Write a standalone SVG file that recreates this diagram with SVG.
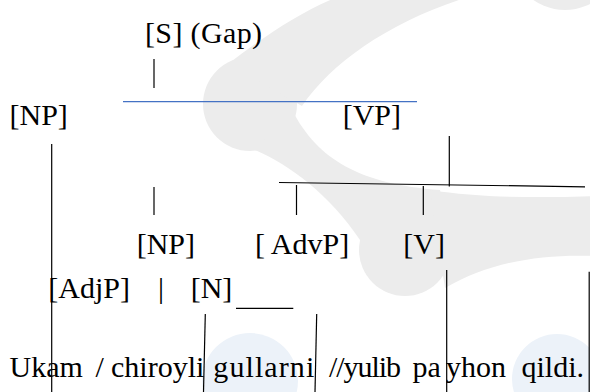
<svg xmlns="http://www.w3.org/2000/svg" width="590" height="392" viewBox="0 0 590 392">
<style>
.ln{stroke:#000;stroke-width:1.2;fill:none}
.blue{stroke:#4472c4;stroke-width:1.2;fill:none}
.wm{fill:#ececec}
.wb{fill:#ecf2f9}
</style>
<rect width="590" height="392" fill="#fff"/>
<g id="watermark">
<circle class="wm" cx="250" cy="104" r="47"/>
<path class="wm" d="M228,64 C262,38 300,12 335,-2 L465,-2 C390,22 332,62 302,106 Z"/>
<path class="wm" d="M292,110 C318,160 360,184 440,190 L450,240 L360,240 C330,195 290,165 255,150 Z"/>
<circle class="wm" cx="405" cy="250" r="46"/>
<path class="wm" d="M430,190 C480,198 540,198 595,196 L595,256 C540,254 490,262 445,288 Z"/>
<circle class="wm" cx="565" cy="-45" r="55"/>
<circle class="wb" cx="250" cy="381" r="48"/>
<circle class="wb" cx="557" cy="379" r="45"/>
</g>
<g id="connectors">
<line class="ln" x1="154" y1="59" x2="154" y2="88"/>
<line class="blue" x1="123" y1="101.7" x2="417" y2="101.7"/>
<line class="ln" x1="51.7" y1="144" x2="51.7" y2="392"/>
<line class="ln" x1="449.3" y1="136" x2="449.3" y2="186.5"/>
<line class="ln" x1="279" y1="182.5" x2="585" y2="186.8"/>
<line class="ln" x1="154" y1="187" x2="154" y2="215"/>
<line class="ln" x1="296.5" y1="185" x2="296.5" y2="215"/>
<line class="ln" x1="423.3" y1="186" x2="423.3" y2="215"/>
<line class="ln" x1="236" y1="308.3" x2="293.3" y2="308.3"/>
<line class="ln" x1="205.3" y1="314" x2="203.5" y2="392"/>
<line class="ln" x1="316.7" y1="314" x2="315" y2="392"/>
<line class="ln" x1="446.7" y1="270" x2="446.7" y2="392"/>
<line class="ln" x1="589.2" y1="271.7" x2="589.2" y2="392"/>
</g>
<g id="node-S"><text x="145" y="43" font-family="Liberation Serif" font-size="30" textLength="117">[S] (Gap)</text></g>
<g id="node-NP1"><text x="9.5" y="124.5" font-family="Liberation Serif" font-size="30">[NP]</text></g>
<g id="node-VP"><text x="342.7" y="124.5" font-family="Liberation Serif" font-size="30">[VP]</text></g>
<g id="node-NP2"><text x="136.7" y="254" font-family="Liberation Serif" font-size="30">[NP]</text></g>
<g id="node-AdvP"><text x="255" y="254" font-family="Liberation Serif" font-size="30">[ AdvP]</text></g>
<g id="node-V"><text x="403.3" y="254" font-family="Liberation Serif" font-size="30">[V]</text></g>
<g id="node-AdjP"><text x="48.3" y="298" font-family="Liberation Serif" font-size="30">[AdjP]</text></g>
<g id="node-bar"><text x="158" y="298" font-family="Liberation Serif" font-size="30">|</text></g>
<g id="node-N"><text x="190.7" y="298" font-family="Liberation Serif" font-size="30">[N]</text></g>
<g id="sentence">
<text x="9.5" y="377" font-family="Liberation Serif" font-size="30">Ukam</text>
<text x="95.5" y="377" font-family="Liberation Serif" font-size="30">/</text>
<text x="111" y="377" font-family="Liberation Serif" font-size="30">chiroyli</text>
<text x="213.3" y="377" font-family="Liberation Serif" font-size="30" textLength="101">gullarni</text>
<text x="329" y="377" font-family="Liberation Serif" font-size="30" textLength="72">//yulib</text>
<text x="412.5" y="377" font-family="Liberation Serif" font-size="30">pa</text>
<text x="446" y="377" font-family="Liberation Serif" font-size="30">yhon</text>
<text x="521.5" y="377" font-family="Liberation Serif" font-size="30">qildi.</text>
</g>
</svg>
